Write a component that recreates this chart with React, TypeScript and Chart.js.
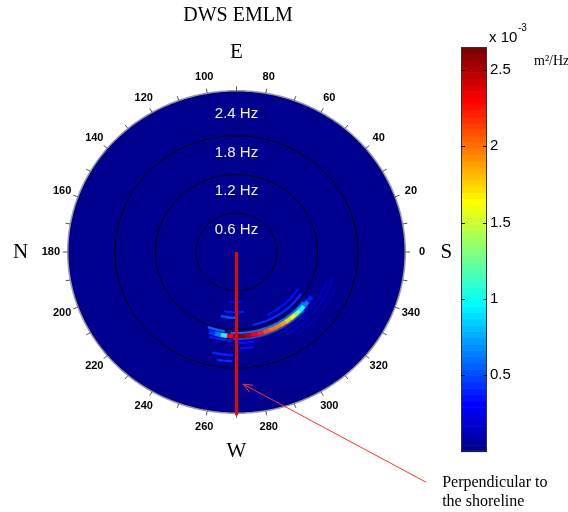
import React, { useEffect, useRef } from "react";
import { Chart, registerables } from "chart.js";
Chart.register(...registerables);

// ---------- data ----------
const chartTitle = "DWS EMLM";
const maxFreq = 2.5; // Hz, outer edge of the polar plot
const ringFreqs = [0.6, 1.2, 1.8, 2.4];
const ringLabels = ["0.6 Hz", "1.2 Hz", "1.8 Hz", "2.4 Hz"];
const dirTickLabels = [0, 20, 40, 60, 80, 100, 120, 140, 160, 180, 200, 220, 240, 260, 280, 300, 320, 340];
const compassLetters = ["S", "E", "N", "W"];
const compassDirs = [0, 90, 180, 270];
const compassRadius = [3.11, 3.1, 3.2, 3.1];

// main energy arc (values in 1e-3 m^2/Hz)
const arcFreqBand = [1.275, 1.335];
const arcDirWidth = 4;
const arcDirStarts = [252, 256, 260, 264, 268, 272, 276, 280, 284, 288, 292, 296, 300, 304, 308, 312, 316, 320, 324];
const arcValues = [0.45, 0.65, 1.0, 2.3, 2.65, 2.6, 2.45, 2.3, 2.2, 2.1, 2.0, 1.95, 1.9, 1.75, 1.6, 1.3, 1.0, 0.65, 0.4];

// weaker stripes around the arc
const patchFreqLo = [1.24, 1.335, 1.14, 1.06, 1.0, 0.92, 1.22, 1.39, 1.48, 1.58, 1.68, 0.76, 1.4, 1.47, 1.55, 1.36];
const patchFreqHi = [1.275, 1.365, 1.17, 1.09, 1.04, 0.95, 1.26, 1.43, 1.51, 1.62, 1.71, 0.79, 1.42, 1.49, 1.57, 1.39];
const patchDirLo = [266, 268, 282, 295, 257, 259, 250, 271, 272, 257, 260, 262, 295, 300, 305, 253];
const patchDirHi = [322, 318, 326, 328, 270, 277, 262, 281, 280, 268, 268, 276, 340, 345, 340, 268];
const patchValues = [0.6, 0.5, 0.45, 0.35, 0.5, 0.4, 0.55, 0.35, 0.35, 0.4, 0.45, 0.3, 0.2, 0.18, 0.15, 0.4];

const shorelineDir = 270;
const shorelineLength = 2.53;
const annotationLines = ["Perpendicular to", "the shoreline"];
const annotationTip = [0.1, -2.05];
const annotationTail = [2.81, -3.57];

const colorbarMax = 2.65;
const colorbarTicks = [0.5, 1, 1.5, 2, 2.5];
const colorbarLevels = 64;

// ---------- jet colormap (MATLAB) ----------
function buildJet(n: number): number[][] {
  const m = Math.ceil(n / 4);
  const u: number[] = [];
  for (let i = 1; i <= m; i++) u.push(i / m);
  for (let i = 0; i < m - 1; i++) u.push(1);
  for (let i = m; i >= 1; i--) u.push(i / m);
  const cmap = Array.from({ length: n }, () => [0, 0, 0]);
  const g0 = Math.ceil(m / 2) - (n % 4 === 1 ? 1 : 0);
  const gs: number[] = [], rs: number[] = [], bs: number[] = [];
  for (let k = 1; k <= u.length; k++) {
    const g = g0 + k;
    gs.push(g); rs.push(g + m); bs.push(g - m);
  }
  const gK = gs.filter((g) => g <= n);
  const rK = rs.filter((r) => r <= n);
  const bK = bs.filter((b) => b >= 1);
  rK.forEach((r, i) => (cmap[r - 1][0] = u[i]));
  gK.forEach((g, i) => (cmap[g - 1][1] = u[i]));
  bK.forEach((b, i) => (cmap[b - 1][2] = u[u.length - bK.length + i]));
  return cmap;
}
const JET = buildJet(colorbarLevels);
function jetIndexColor(i: number) {
  const c = JET[Math.max(0, Math.min(colorbarLevels - 1, i))];
  return `rgb(${Math.round(c[0] * 255)},${Math.round(c[1] * 255)},${Math.round(c[2] * 255)})`;
}
function valueColor(v: number) {
  return jetIndexColor(Math.floor((v / colorbarMax) * colorbarLevels));
}

const SANS = "'Liberation Sans', Arial, sans-serif";
const SERIF = "'Liberation Serif', 'Times New Roman', serif";

const polarPlugin = {
  id: "polarDecor",
  beforeDatasetsDraw(chart: any) {
    const ctx = chart.ctx as CanvasRenderingContext2D;
    const xs = chart.scales.x, ys = chart.scales.y;
    const P = (f: number, d: number): [number, number] => {
      const a = (d * Math.PI) / 180;
      return [xs.getPixelForValue(f * Math.cos(a)), ys.getPixelForValue(f * Math.sin(a))];
    };
    const circle = (f: number) => {
      ctx.beginPath();
      for (let d = 0; d <= 360; d += 1) {
        const [px, py] = P(f, d);
        d === 0 ? ctx.moveTo(px, py) : ctx.lineTo(px, py);
      }
      ctx.closePath();
    };
    const sector = (f0: number, f1: number, d0: number, d1: number) => {
      const steps = Math.max(2, Math.ceil(Math.abs(d1 - d0)));
      ctx.beginPath();
      for (let i = 0; i <= steps; i++) {
        const [px, py] = P(f1, d0 + ((d1 - d0) * i) / steps);
        i === 0 ? ctx.moveTo(px, py) : ctx.lineTo(px, py);
      }
      for (let i = steps; i >= 0; i--) {
        const [px, py] = P(f0, d0 + ((d1 - d0) * i) / steps);
        ctx.lineTo(px, py);
      }
      ctx.closePath();
    };
    ctx.save();
    // disk background
    circle(maxFreq);
    ctx.fillStyle = valueColor(0);
    ctx.fill();
    // stripes
    patchValues.forEach((v, i) => {
      sector(patchFreqLo[i], patchFreqHi[i], patchDirLo[i], patchDirHi[i]);
      ctx.fillStyle = valueColor(v);
      ctx.fill();
    });
    // rings
    ctx.strokeStyle = "#000";
    ctx.lineWidth = 1;
    ringFreqs.slice(0, 3).forEach((f) => {
      circle(f);
      ctx.stroke();
    });
    // main arc
    arcValues.forEach((v, i) => {
      sector(arcFreqBand[0], arcFreqBand[1], arcDirStarts[i], arcDirStarts[i] + arcDirWidth);
      ctx.fillStyle = valueColor(v);
      ctx.strokeStyle = valueColor(v);
      ctx.lineWidth = 0.6;
      ctx.fill();
      ctx.stroke();
    });
    // outer edge
    circle(maxFreq);
    ctx.strokeStyle = "#9a9a9a";
    ctx.lineWidth = 1.5;
    ctx.stroke();
    // direction ticks
    ctx.strokeStyle = "#555";
    ctx.lineWidth = 1;
    for (let d = 0; d < 360; d += 10) {
      const [x0, y0] = P(maxFreq, d);
      const [x1, y1] = P(maxFreq + 0.07, d);
      ctx.beginPath();
      ctx.moveTo(x0, y0);
      ctx.lineTo(x1, y1);
      ctx.stroke();
    }
    // direction labels
    ctx.fillStyle = "#000";
    ctx.font = `bold 11px ${SANS}`;
    ctx.textAlign = "center";
    ctx.textBaseline = "middle";
    dirTickLabels.forEach((d) => {
      const [px, py] = P(2.75, d);
      ctx.fillText(String(d), px, py);
    });
    // ring labels
    ctx.fillStyle = "#f4f4f4";
    ctx.font = `15px ${SANS}`;
    ringFreqs.forEach((f, i) => {
      const [px, py] = P(f - 0.24, 90);
      ctx.fillText(ringLabels[i], px, py + 1);
    });
    ctx.restore();
  },
  afterDatasetsDraw(chart: any) {
    const ctx = chart.ctx as CanvasRenderingContext2D;
    const xs = chart.scales.x, ys = chart.scales.y;
    const P = (f: number, d: number): [number, number] => {
      const a = (d * Math.PI) / 180;
      return [xs.getPixelForValue(f * Math.cos(a)), ys.getPixelForValue(f * Math.sin(a))];
    };
    ctx.save();
    // title
    ctx.fillStyle = "#000";
    ctx.textAlign = "center";
    ctx.textBaseline = "middle";
    ctx.font = `20px ${SERIF}`;
    ctx.fillText(chartTitle, xs.getPixelForValue(0) + 1.5, 16);
    // compass letters
    ctx.font = `21px ${SERIF}`;
    compassLetters.forEach((l, i) => {
      const [px, py] = P(compassRadius[i], compassDirs[i]);
      ctx.fillText(l, px, py);
    });
    // annotation arrow
    const tx = xs.getPixelForValue(annotationTip[0]);
    const ty = ys.getPixelForValue(annotationTip[1]);
    const ex = xs.getPixelForValue(annotationTail[0]);
    const ey = ys.getPixelForValue(annotationTail[1]);
    ctx.strokeStyle = "#ff3030";
    ctx.lineWidth = 1;
    ctx.beginPath();
    ctx.moveTo(ex, ey);
    ctx.lineTo(tx, ty);
    const ang = Math.atan2(ey - ty, ex - tx);
    const head = 10;
    ctx.moveTo(tx + head * Math.cos(ang + 0.4), ty + head * Math.sin(ang + 0.4));
    ctx.lineTo(tx, ty);
    ctx.lineTo(tx + head * Math.cos(ang - 0.4), ty + head * Math.sin(ang - 0.4));
    ctx.stroke();
    // annotation text
    ctx.fillStyle = "#000";
    ctx.textAlign = "left";
    ctx.font = `16px ${SERIF}`;
    annotationLines.forEach((t, i) => {
      ctx.fillText(t, ex + 16, ey + 1 + i * 19);
    });
    ctx.restore();
  },
};

const colorbarPlugin = {
  id: "colorbarDecor",
  beforeDatasetsDraw(chart: any) {
    const ctx = chart.ctx as CanvasRenderingContext2D;
    const { left, right, top, bottom } = chart.chartArea;
    const ys = chart.scales.y;
    ctx.save();
    for (let i = 0; i < colorbarLevels; i++) {
      const v0 = (i * colorbarMax) / colorbarLevels;
      const v1 = ((i + 1) * colorbarMax) / colorbarLevels;
      const p0 = ys.getPixelForValue(v0);
      const p1 = ys.getPixelForValue(v1);
      ctx.fillStyle = jetIndexColor(i);
      ctx.fillRect(left, p1, right - left, p0 - p1 + 0.6);
    }
    ctx.strokeStyle = "#333";
    ctx.lineWidth = 1;
    ctx.strokeRect(left + 0.5, top + 0.5, right - left - 1, bottom - top - 1);
    ctx.strokeStyle = "#000";
    colorbarTicks.forEach((t) => {
      const py = Math.round(ys.getPixelForValue(t)) + 0.5;
      ctx.beginPath();
      ctx.moveTo(left, py);
      ctx.lineTo(left + 4, py);
      ctx.moveTo(right - 4, py);
      ctx.lineTo(right, py);
      ctx.stroke();
    });
    // exponent and unit
    ctx.fillStyle = "#000";
    ctx.textBaseline = "middle";
    ctx.textAlign = "left";
    ctx.font = `15px ${SANS}`;
    ctx.fillText("x 10", right + 2, top - 9);
    ctx.font = `10px ${SANS}`;
    ctx.fillText("-3", right + 31, top - 19);
    ctx.font = `14px ${SERIF}`;
    ctx.fillText("m²/Hz", right + 47, top + 14);
    ctx.restore();
  },
};

export default function App() {
  const polarRef = useRef<HTMLCanvasElement>(null);
  const barRef = useRef<HTMLCanvasElement>(null);

  useEffect(() => {
    document.body.style.margin = "0";
    const a = (shorelineDir * Math.PI) / 180;
    const polar = new Chart(polarRef.current!, {
      type: "scatter",
      data: {
        datasets: [
          {
            label: "shoreline normal",
            data: [
              { x: 0, y: 0 },
              { x: shorelineLength * Math.cos(a), y: shorelineLength * Math.sin(a) },
            ],
            showLine: true,
            borderColor: "#f00000",
            borderWidth: 3,
            pointRadius: 0,
            clip: false,
          } as any,
        ],
      },
      options: {
        animation: false,
        responsive: false,
        events: [],
        layout: { padding: { left: 67.75, right: 162.75, top: 90.75, bottom: 98.75 } },
        plugins: { legend: { display: false }, tooltip: { enabled: false }, title: { display: false } },
        scales: {
          x: { type: "linear", min: -maxFreq, max: maxFreq, display: false },
          y: { type: "linear", min: -maxFreq, max: maxFreq, display: false },
        },
      },
      plugins: [polarPlugin],
    });

    const bar = new Chart(barRef.current!, {
      type: "scatter",
      data: { datasets: [{ data: [] }] },
      options: {
        animation: false,
        responsive: false,
        events: [],
        layout: { padding: { left: 461, right: 21, top: 47, bottom: 60.5 } },
        plugins: { legend: { display: false }, tooltip: { enabled: false } },
        scales: {
          x: { type: "linear", min: 0, max: 1, display: false },
          y: {
            type: "linear",
            position: "right",
            min: 0,
            max: colorbarMax,
            grid: { display: false, drawTicks: false },
            border: { display: false },
            ticks: {
              padding: 3,
              color: "#000",
              font: { family: "Liberation Sans", size: 15 },
              callback: (v: any) => String(v),
            },
            afterBuildTicks: (scale: any) => {
              scale.ticks = colorbarTicks.map((v) => ({ value: v }));
            },
            afterFit: (scale: any) => {
              scale.width = 60;
            },
          },
        },
      },
      plugins: [colorbarPlugin],
    });

    return () => {
      polar.destroy();
      bar.destroy();
    };
  }, []);

  return (
    <div style={{ position: "relative", width: 568, height: 512, background: "#fff" }}>
      <canvas ref={polarRef} width={568} height={512} style={{ position: "absolute", left: 0, top: 0 }} />
      <canvas ref={barRef} width={568} height={512} style={{ position: "absolute", left: 0, top: 0 }} />
    </div>
  );
}
